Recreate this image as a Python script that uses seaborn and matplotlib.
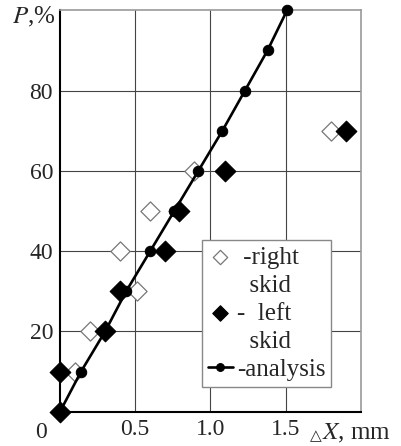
import matplotlib
matplotlib.use("Agg")
import matplotlib.pyplot as plt
import seaborn as sns

# values (displacement in mm, probability in %)
analysis_x = [0.0, 0.14, 0.30, 0.44, 0.60, 0.76, 0.92, 1.08, 1.23, 1.38, 1.51]
analysis_y = [0, 10, 20, 30, 40, 50, 60, 70, 80, 90, 100]
right_x = [0.10, 0.20, 0.51, 0.40, 0.60, 0.89, 1.80]
right_y = [10, 20, 30, 40, 50, 60, 70]
left_x = [0.0, 0.0, 0.30, 0.40, 0.70, 0.79, 1.10, 1.90]
left_y = [0, 10, 20, 30, 40, 50, 60, 70]
xticks = [0.5, 1.0, 1.5]
yticks = [20, 40, 60, 80]

sns.set_style("white")
plt.rcParams["font.family"] = ["Liberation Serif", "DejaVu Sans"]
plt.rcParams["mathtext.fontset"] = "stix"

fig = plt.figure(figsize=(4.01, 4.46), dpi=100)
ax = fig.add_axes([0.1496, 0.0769, 0.75, 0.9])

sns.scatterplot(x=right_x, y=right_y, marker="D", s=95, color="white",
                edgecolor="#777777", linewidth=0.9, ax=ax, clip_on=False,
                zorder=3, label="-right")
sns.lineplot(x=analysis_x, y=analysis_y, color="black", lw=1.9, marker="o",
             markersize=7.5, markeredgecolor="black", ax=ax, clip_on=False,
             zorder=4, label="-analysis", sort=False)
sns.scatterplot(x=left_x, y=left_y, marker="D", s=110, color="black",
                edgecolor="black", ax=ax, clip_on=False, zorder=5,
                label="-  left")

ax.set_xlim(0, 2.0)
ax.set_ylim(0, 100)
ax.set_xticks(xticks)
ax.set_xticklabels(["0.5", "1.0", "1.5"])
ax.set_yticks(yticks)
ax.tick_params(length=0, labelsize=17, pad=5)
ax.grid(True, color="#444444", lw=0.8)
for s in ["top", "right"]:
    ax.spines[s].set_color("#999999")
    ax.spines[s].set_linewidth(1.2)
for s in ["left", "bottom"]:
    ax.spines[s].set_color("black")
    ax.spines[s].set_linewidth(1.5)

# legend: marker sits on the first line, "skid" goes on its own row
h, l = ax.get_legend_handles_labels()
blank = plt.Line2D([], [], linestyle="none")
handles = [h[0], blank, h[2], blank, h[1]]
labels = [" -right", "  skid", "-  left", "  skid", "-analysis"]
leg = ax.legend(handles, labels, loc="lower left", bbox_to_anchor=(0.471, 0.062),
                borderaxespad=0, fontsize=18, handlelength=1.0,
                handletextpad=0.15, markerscale=0.75, fancybox=False,
                framealpha=1, edgecolor="#888888", labelspacing=0.22,
                borderpad=0.25)
leg.get_frame().set_linewidth(1.0)

fig.text(56 / 401, 1 - 17 / 446, r"$P$,%", fontsize=18, ha="right", va="center")
fig.text(40.5 / 401, 1 - 433 / 446, "0", fontsize=17, ha="center", va="center")
fig.text(316 / 401, 1 - 436 / 446, "△", fontsize=11, ha="center", va="center",
         family="DejaVu Sans")
fig.text(322 / 401, 1 - 433 / 446, r"$X$, mm", fontsize=18, ha="left", va="center")

fig.savefig("out.png", dpi=100)
